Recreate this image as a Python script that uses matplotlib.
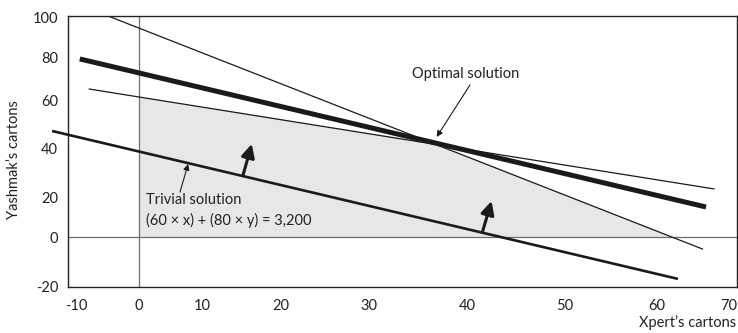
import numpy as np
import matplotlib
matplotlib.use("Agg")
import matplotlib.pyplot as plt

plt.rcParams['font.family'] = ['Lato', 'DejaVu Sans']
plt.rcParams['axes.unicode_minus'] = False

# axis ticks (the printed axis is not evenly spaced, so the scale follows the labels)
x_ticks = [-10, 0, 10, 20, 30, 40, 50, 60, 70]
y_ticks = [-20, 0, 20, 40, 60, 80, 100]
x_tick_pos = [76, 139, 202, 281, 369, 467, 565, 657, 729]
y_tick_pos = [286, 237, 197, 148, 100, 57, 17]

# constraint / objective lines (x, y end points)
steep_x = [-4.9, 66.3]
steep_y = [100.5, -4.9]
shallow_x = [-7.9, 67.9]
shallow_y = [65.1, 23.3]
optimal_x = [-9.4, 66.8]
optimal_y = [79.1, 15.0]
trivial_x = [-13.8, 62.9]
trivial_y = [47.1, -17.1]

# feasible region corners
region_x = [0, 0, 36.7, 62.0]
region_y = [0, 61.4, 41.9, 0]

# direction arrows (tail, head)
push_arrows = [((15.2, 29.0), (16.3, 41.7)), ((41.6, 3.0), (42.5, 18.0))]


def piecewise(vals, pos):
    vals = np.asarray(vals, float)
    pos = np.asarray(pos, float)

    def extend(v, a, b):
        v = np.asarray(v, float)
        out = np.interp(v, a, b)
        lo_slope = (b[1] - b[0]) / (a[1] - a[0])
        hi_slope = (b[-1] - b[-2]) / (a[-1] - a[-2])
        out = np.where(v < a[0], b[0] + (v - a[0]) * lo_slope, out)
        out = np.where(v > a[-1], b[-1] + (v - a[-1]) * hi_slope, out)
        return out

    return (lambda v: extend(v, vals, pos)), (lambda p: extend(p, pos, vals))


fig = plt.figure(figsize=(7.38, 3.33), dpi=100)
ax = fig.add_axes([68 / 738, 1 - 287 / 333, 669 / 738, 271 / 333])

ax.set_xscale('function', functions=piecewise(x_ticks, x_tick_pos))
ax.set_yscale('function', functions=piecewise(y_ticks, [-p for p in y_tick_pos]))
ax.set_xlim(-11.27, 71.1)
ax.set_ylim(-20.4, 100.5)

ax.fill(region_x, region_y, color='#e6e7e9', lw=0, zorder=1)
ax.axvline(0, color='#6d6e70', lw=0.9, zorder=2)
ax.axhline(0, color='#6d6e70', lw=0.9, zorder=2)

ax.plot(steep_x, steep_y, color='#1a1a1a', lw=0.9, zorder=3)
ax.plot(shallow_x, shallow_y, color='#1a1a1a', lw=0.9, zorder=3)
ax.plot(optimal_x, optimal_y, color='#1a1a1a', lw=3.6, solid_capstyle='butt', zorder=4, clip_on=False)
ax.plot(trivial_x, trivial_y, color='#1a1a1a', lw=1.9, solid_capstyle='butt', zorder=4, clip_on=False)

for tail, head in push_arrows:
    ax.annotate('', xy=head, xytext=tail,
                arrowprops=dict(arrowstyle='-|>', color='#1a1a1a', lw=2.2,
                                mutation_scale=20, shrinkA=0, shrinkB=0))

ax.text(39.9, 72.1, 'Optimal solution', ha='center', va='center', fontsize=10.5, color='#222222')
ax.annotate('', xy=(36.9, 44.6), xytext=(40.3, 67.0),
            arrowprops=dict(arrowstyle='-|>', color='#1a1a1a', lw=0.8,
                            mutation_scale=9, shrinkA=0, shrinkB=0))
ax.annotate('', xy=(7.8, 33.5), xytext=(6.5, 22.0),
            arrowprops=dict(arrowstyle='-|>', color='#1a1a1a', lw=0.8,
                            mutation_scale=9, shrinkA=0, shrinkB=0))
ax.text(1.1, 18.5, 'Trivial solution', ha='left', va='center', fontsize=10.5, color='#222222')
ax.text(1.1, 8.5, '(60 \u00d7 x) + (80 \u00d7 y) = 3,200', ha='left', va='center',
        fontsize=10.5, color='#222222')

ax.set_xticks(x_ticks)
ax.set_xticklabels([str(t) for t in x_ticks])
ax.set_yticks(y_ticks)
ax.set_yticklabels([str(t) for t in y_ticks])
ax.minorticks_off()
ax.tick_params(length=0, labelsize=10.5, labelcolor='#222222')
ax.tick_params(axis='x', pad=9)
ax.tick_params(axis='y', pad=7)
for s in ax.spines.values():
    s.set_color('#222222')
    s.set_linewidth(1.0)

fig.text(14 / 738, 1 - 160 / 333, 'Yashmak\u2019s cartons', rotation=90,
         ha='center', va='center', fontsize=10.5, color='#222222')
fig.text(736 / 738, 1 - 323 / 333, 'Xpert\u2019s cartons', ha='right', va='center',
         fontsize=10.5, color='#222222')

fig.savefig('out.png', dpi=100)
plt.close(fig)
